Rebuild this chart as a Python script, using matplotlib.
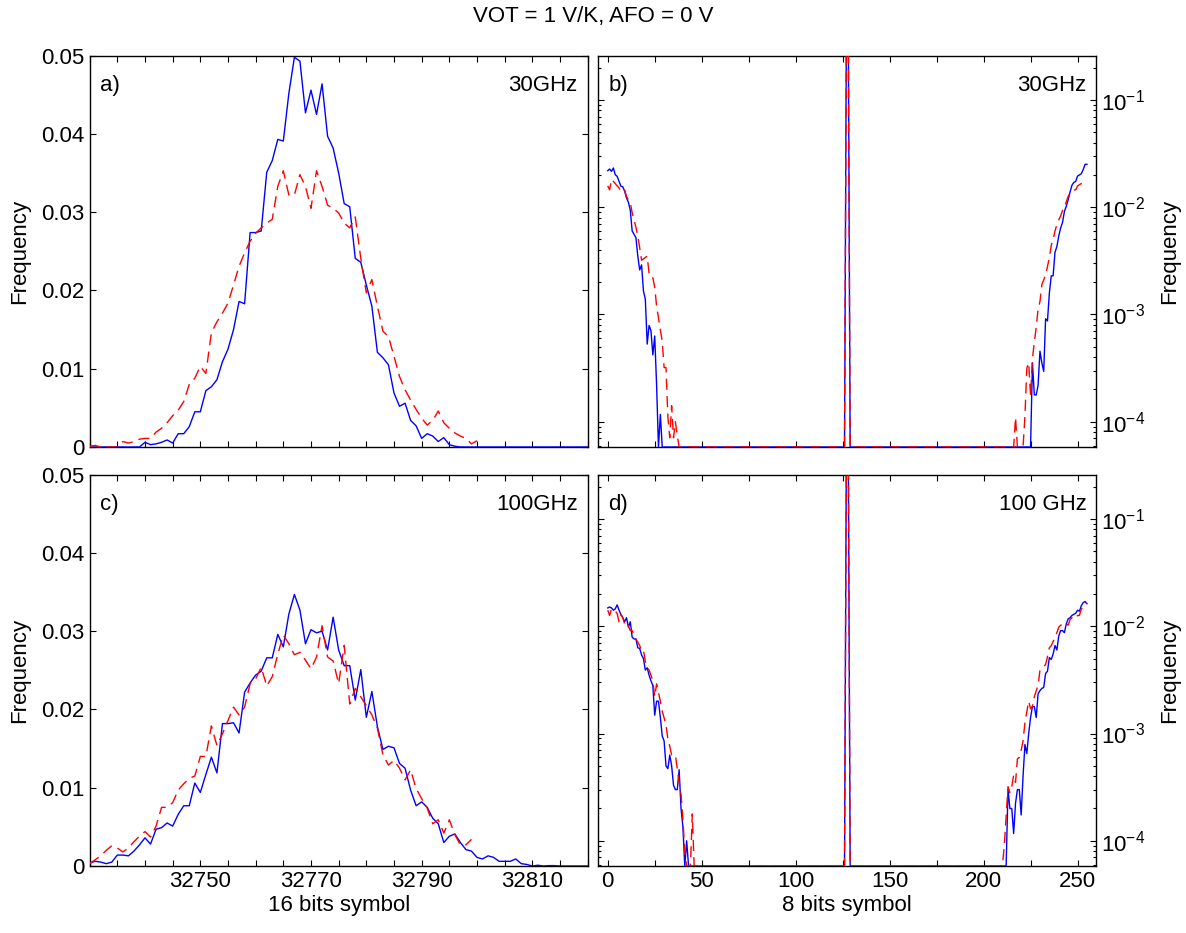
import numpy as np
import matplotlib
matplotlib.use("Agg")
import matplotlib.pyplot as plt
from matplotlib.ticker import LogLocator, NullFormatter

plt.rcParams["font.family"] = ["Liberation Sans", "DejaVu Sans"]
plt.rcParams["mathtext.fontset"] = "custom"
plt.rcParams["mathtext.rm"] = "Liberation Sans"
plt.rcParams["mathtext.it"] = "Liberation Sans:italic"
FS = 16

# ---- 16 bit histograms (panels a, c) ----
sym16_first = 32730
blue_a = [0, 0, 0, 0, 0, 0, 0, 0, 0, 0,
          0.0006, 0.0003, 0.0004, 0.0006, 0.0009, 0.0005, 0.0017, 0.0017, 0.0026, 0.0045,
          0.0045, 0.0072, 0.0077, 0.0086, 0.0109, 0.0125, 0.0150, 0.0186, 0.0183, 0.0274,
          0.0274, 0.0276, 0.0351, 0.0366, 0.0393, 0.0391, 0.0452, 0.0498, 0.0493, 0.0427,
          0.0456, 0.0425, 0.0464, 0.0397, 0.0382, 0.0350, 0.0311, 0.0307, 0.0241, 0.0236,
          0.0207, 0.0180, 0.0121, 0.0114, 0.0105, 0.0069, 0.0052, 0.0056, 0.0034, 0.0027,
          0.0011, 0.0017, 0.0014, 0.0007, 0.0012, 0.0003, 0.0001,
          0, 0, 0, 0, 0, 0, 0, 0, 0, 0, 0, 0, 0, 0, 0, 0, 0, 0, 0, 0, 0, 0, 0, 0]
red_a = [0.0001, 0.0002, 0, 0, 0, 0, 0.0007, 0.0005, 0.0007, 0.0010,
         0.0011, 0.0011, 0.0019, 0.0024, 0.0031, 0.0040, 0.0047, 0.0058, 0.0080, 0.0088,
         0.0103, 0.0094, 0.0146, 0.0160, 0.0171, 0.0184, 0.0207, 0.0231, 0.0248, 0.0263,
         0.0273, 0.0280, 0.0286, 0.0291, 0.0333, 0.0353, 0.0322, 0.0322, 0.0348, 0.0333,
         0.0305, 0.0353, 0.0333, 0.0309, 0.0305, 0.0299, 0.0286, 0.0280, 0.0294, 0.0241,
         0.0197, 0.0214, 0.0180, 0.0148, 0.0141, 0.0116, 0.0090, 0.0073, 0.0060, 0.0048,
         0.0037, 0.0028, 0.0034, 0.0046, 0.0031, 0.0024, 0.0018, 0.0014, 0.0011, 0.0004,
         0.0008]
blue_c = [0.0004, 0.0006, 0.0005, 0.0003, 0.0005, 0.0014, 0.0014, 0.0013, 0.0019, 0.0027,
          0.0036, 0.0028, 0.0047, 0.0049, 0.0055, 0.0051, 0.0066, 0.0077, 0.0077, 0.0106,
          0.0094, 0.0117, 0.0139, 0.0119, 0.0182, 0.0182, 0.0183, 0.0170, 0.0222, 0.0234,
          0.0244, 0.0249, 0.0266, 0.0266, 0.0296, 0.0280, 0.0322, 0.0347, 0.0327, 0.0284,
          0.0302, 0.0298, 0.0300, 0.0276, 0.0318, 0.0276, 0.0256, 0.0256, 0.0212, 0.0251,
          0.0190, 0.0223, 0.0178, 0.0149, 0.0153, 0.0151, 0.0131, 0.0125, 0.0097, 0.0077,
          0.0082, 0.0075, 0.0061, 0.0054, 0.0030, 0.0038, 0.0041, 0.0030, 0.0021, 0.0019,
          0.0011, 0.0009, 0.0013, 0.0011, 0.0006, 0.0006, 0.0006, 0.0009, 0.0003, 0.0002,
          0, 0.0001, 0, 0.00005, 0.00005, 0, 0, 0, 0, 0, 0]
red_c = [0.0003, 0.0008, 0.0013, 0.0020, 0.0026, 0.0023, 0.0018, 0.0023, 0.0031, 0.0038,
         0.0044, 0.0037, 0.0051, 0.0075, 0.0075, 0.0081, 0.0097, 0.0105, 0.0112, 0.0115,
         0.0140, 0.0140, 0.0179, 0.0154, 0.0169, 0.0186, 0.0203, 0.0193, 0.0203, 0.0233,
         0.0239, 0.0254, 0.0230, 0.0242, 0.0271, 0.0295, 0.0284, 0.0270, 0.0273, 0.0263,
         0.0252, 0.0267, 0.0307, 0.0267, 0.0262, 0.0233, 0.0282, 0.0207, 0.0227, 0.0216,
         0.0205, 0.0193, 0.0176, 0.0142, 0.0129, 0.0135, 0.0125, 0.0110, 0.0123, 0.0099,
         0.0086, 0.0074, 0.0054, 0.0059, 0.0042, 0.0059, 0.0040, 0.0027, 0.0027, 0.0034]

# ---- 8 bit histograms (panels b, d): left tail from 0, right tail ending at 255 ----
peak_syms = [127, 128]
blue_b_left = [0.0219, 0.0227, 0.0216, 0.0232, 0.0201, 0.0194, 0.0175, 0.0157, 0.0155, 0.0141,
               0.0122, 0.0111, 0.0094, 0.0060, 0.0056, 0.0052, 0.0035, 0.0026, 0.0029, 0.00166,
               0.00139, 0.00053, 0.00079, 0.00071, 0.00042, 0.00063, 0.00022, 0, 0.000117, 0]
blue_b_right = [0, 0.000355, 0.000178, 0.000178, 0.000219, 0.000455, 0.000355, 0.000295, 0.000912,
                0.000871, 0.00158, 0.00229, 0.00229, 0.0038, 0.0043, 0.0054, 0.0064, 0.0072,
                0.0091, 0.0102, 0.0117, 0.0138, 0.0160, 0.0170, 0.0174, 0.0195, 0.0200,
                0.0205, 0.0224, 0.0251, 0.0251]
blue_b_peak = [0.5, 0.5]
red_b_left = [0.0158, 0.0145, 0.0182, 0.0174, 0.0166, 0.0158, 0.0151, 0.0141, 0.0138, 0.0145,
              0.0126, 0.0117, 0.0110, 0.0089, 0.0076, 0.0065, 0.0054, 0.0042, 0.0032, 0.0033,
              0.0034, 0.0035, 0.0024, 0.0022, 0.0022, 0.0018, 0.0012, 0.00093, 0.00072, 0.00056,
              0.00032, 0.00032, 0.000112, 0.000071, 0.000141, 0.000071, 0.0001, 0.000074, 0]
red_b_right = [0, 0.00011, 0, 0, 0, 0, 0.000112, 0.000316, 0.000355, 0.000174,
               0.000389, 0.00055, 0.00076, 0.00112, 0.00132, 0.0019, 0.0021, 0.00234, 0.0028,
               0.0034, 0.0044, 0.0050, 0.0060, 0.0069, 0.0076, 0.0083, 0.0093, 0.0100, 0.0112,
               0.0126, 0.0135, 0.0141, 0.0145, 0.0145, 0.0158, 0.0162, 0.0166, 0.0166, 0.0170,
               0.0174]
red_b_peak = [0.5, 0.5]
blue_d_left = [0.0148, 0.0151, 0.0148, 0.0141, 0.0145, 0.0158, 0.0141, 0.0129, 0.0120, 0.0110,
               0.0120, 0.0098, 0.0110, 0.0079, 0.0076, 0.0076, 0.0063, 0.0062, 0.0054, 0.0050,
               0.0039, 0.0041, 0.0035, 0.0031, 0.0028, 0.00148, 0.0020, 0.0020, 0.00141, 0.00095,
               0.00085, 0.0005, 0.00047, 0.00063, 0.0005, 0.00033, 0.0003, 0.0003, 0.00046, 0.0002,
               0.000135, 0, 0.0001, 0]
blue_d_right = [0, 0, 0.0003, 0.0002, 0.0002, 0.000117, 0.000224, 0.0003, 0.0003, 0.000174,
                0.0004, 0.00079, 0.00065, 0.0010, 0.00141, 0.00178, 0.00178, 0.00141, 0.00234,
                0.00251, 0.00263, 0.00269, 0.00363, 0.0038, 0.0051, 0.0049, 0.0055, 0.0066,
                0.0060, 0.0081, 0.0091, 0.0091, 0.0087, 0.0105, 0.0117, 0.0120, 0.0126, 0.0129,
                0.0132, 0.0141, 0.0138, 0.0155, 0.0166, 0.0170, 0.0162]
blue_d_peak = [0.5, 0.5]
red_d_left = [0.0141, 0.0126, 0.0145, 0.0141, 0.0138, 0.0132, 0.0110, 0.0129, 0.0120, 0.0105,
              0.0110, 0.0100, 0.0091, 0.0091, 0.0083, 0.0076, 0.0071, 0.0066, 0.0059, 0.0060,
              0.0047, 0.0041, 0.0039, 0.0035, 0.0031, 0.0022, 0.0029, 0.0024, 0.0020, 0.0016,
              0.0014, 0.0012, 0.00089, 0.00076, 0.00063, 0.00063, 0.00063, 0.00047, 0.00035,
              0.00027, 0.000158, 0.000079, 0, 0, 0, 0.000178, 0]
red_d_right = [0, 0.000089, 0.000166, 0.00032, 0.00028, 0.00032, 0.00041, 0.00035, 0.00058,
               0.0006, 0.0007, 0.00085, 0.00126, 0.00158, 0.0020, 0.0017, 0.0018, 0.0022, 0.0025,
               0.0028, 0.0039, 0.0040, 0.0042, 0.0044, 0.0052, 0.0063, 0.0066, 0.0072, 0.0079,
               0.0087, 0.0098, 0.0102, 0.0105, 0.0105, 0.0107, 0.0102, 0.0115, 0.0120, 0.0117,
               0.0117, 0.0126, 0.0126, 0.0145, 0.0148, 0.0158, 0.0166]
red_d_peak = [0.5, 0.5]

panel_tags = ["a)", "b)", "c)", "d)"]
panel_freqs = ["30GHz", "30GHz", "100GHz", "100 GHz"]
x16_labels = {32750: "32750", 32770: "32770", 32790: "32790", 32810: "32810"}
y16_ticks = [0, 0.01, 0.02, 0.03, 0.04, 0.05]
y16_labels = ["0", "0.01", "0.02", "0.03", "0.04", "0.05"]

YMIN, YMAX = 10 ** -4.235, 10 ** -0.588   # log axis limits of b, d
BLUE, RED = "#0000ff", "#ff0000"
DASH = (0, (8, 4.5))


def full8(left, right, peak):
    v = np.zeros(256)
    v[:len(left)] = left
    v[256 - len(right):] = right
    v[peak_syms] = peak
    return v


def style(ax):
    ax.tick_params(which="both", direction="in", top=True, right=True,
                   labelsize=FS, width=0.8)
    ax.tick_params(which="major", length=4.5)
    ax.tick_params(which="minor", length=2.5)
    for s in ax.spines.values():
        s.set_linewidth(1.0)


def panel16(ax, blue, red, show_x):
    xb = np.arange(sym16_first, sym16_first + len(blue))
    xr = np.arange(sym16_first, sym16_first + len(red))
    ax.plot(xb, blue, color=BLUE, lw=1.0, zorder=3)
    ax.plot(xr, red, color=RED, lw=1.0, ls=DASH, zorder=3)
    ax.set_xlim(32730, 32820)
    ax.set_ylim(0, 0.05)
    ticks = np.arange(32730, 32821, 5)
    ax.set_xticks(ticks)
    ax.set_xticklabels([x16_labels.get(t, "") if show_x else "" for t in ticks])
    ax.set_yticks(y16_ticks)
    ax.set_yticklabels(y16_labels)
    ax.set_ylabel("Frequency", fontsize=FS, labelpad=8)
    style(ax)


def panel8(ax, blue, red, show_x):
    x = np.arange(256)
    ax.plot(x, np.where(blue > 0, blue, YMIN), color=BLUE, lw=1.0, zorder=3)
    ax.plot(x, np.where(red > 0, red, YMIN), color=RED, lw=1.0, ls=DASH, zorder=3)
    ax.set_yscale("log")
    ax.set_ylim(YMIN, YMAX)
    ax.set_xlim(-5, 260)
    ticks = np.arange(0, 251, 25)
    ax.set_xticks(ticks)
    ax.set_xticklabels([str(t) if (show_x and t % 50 == 0) else "" for t in ticks])
    ax.yaxis.set_major_locator(LogLocator(base=10, numticks=10))
    ax.yaxis.set_minor_locator(LogLocator(base=10, subs=np.arange(2, 10), numticks=20))
    ax.yaxis.set_minor_formatter(NullFormatter())
    style(ax)
    ax.tick_params(which="both", labelleft=False, labelright=True)
    ax.yaxis.set_label_position("right")
    ax.set_ylabel("Frequency", fontsize=FS, labelpad=10)


fig = plt.figure(figsize=(11.86, 9.33), dpi=100)
W, H = 0.4199, 0.4194
ax_a = fig.add_axes([0.0756, 0.5209, W, H])
ax_b = fig.add_axes([0.5045, 0.5209, W, H])
ax_c = fig.add_axes([0.0756, 0.0718, W, H])
ax_d = fig.add_axes([0.5045, 0.0718, W, H])

panel16(ax_a, blue_a, red_a, False)
panel16(ax_c, blue_c, red_c, True)
panel8(ax_b, full8(blue_b_left, blue_b_right, blue_b_peak),
       full8(red_b_left, red_b_right, red_b_peak), False)
panel8(ax_d, full8(blue_d_left, blue_d_right, blue_d_peak),
       full8(red_d_left, red_d_right, red_d_peak), True)

ax_c.set_xlabel("16 bits symbol", fontsize=FS, labelpad=2)
ax_d.set_xlabel("8 bits symbol", fontsize=FS, labelpad=2)

for ax, tag, fr in zip([ax_a, ax_b, ax_c, ax_d], panel_tags, panel_freqs):
    ax.text(0.02, 0.925, tag, transform=ax.transAxes, fontsize=FS,
            ha="left", va="center")
    ax.text(0.98, 0.925, fr, transform=ax.transAxes, fontsize=FS,
            ha="right", va="center")

fig.suptitle("VOT = 1 V/K, AFO = 0 V", fontsize=FS, y=0.982, va="center")
fig.savefig("out.png", dpi=100)
